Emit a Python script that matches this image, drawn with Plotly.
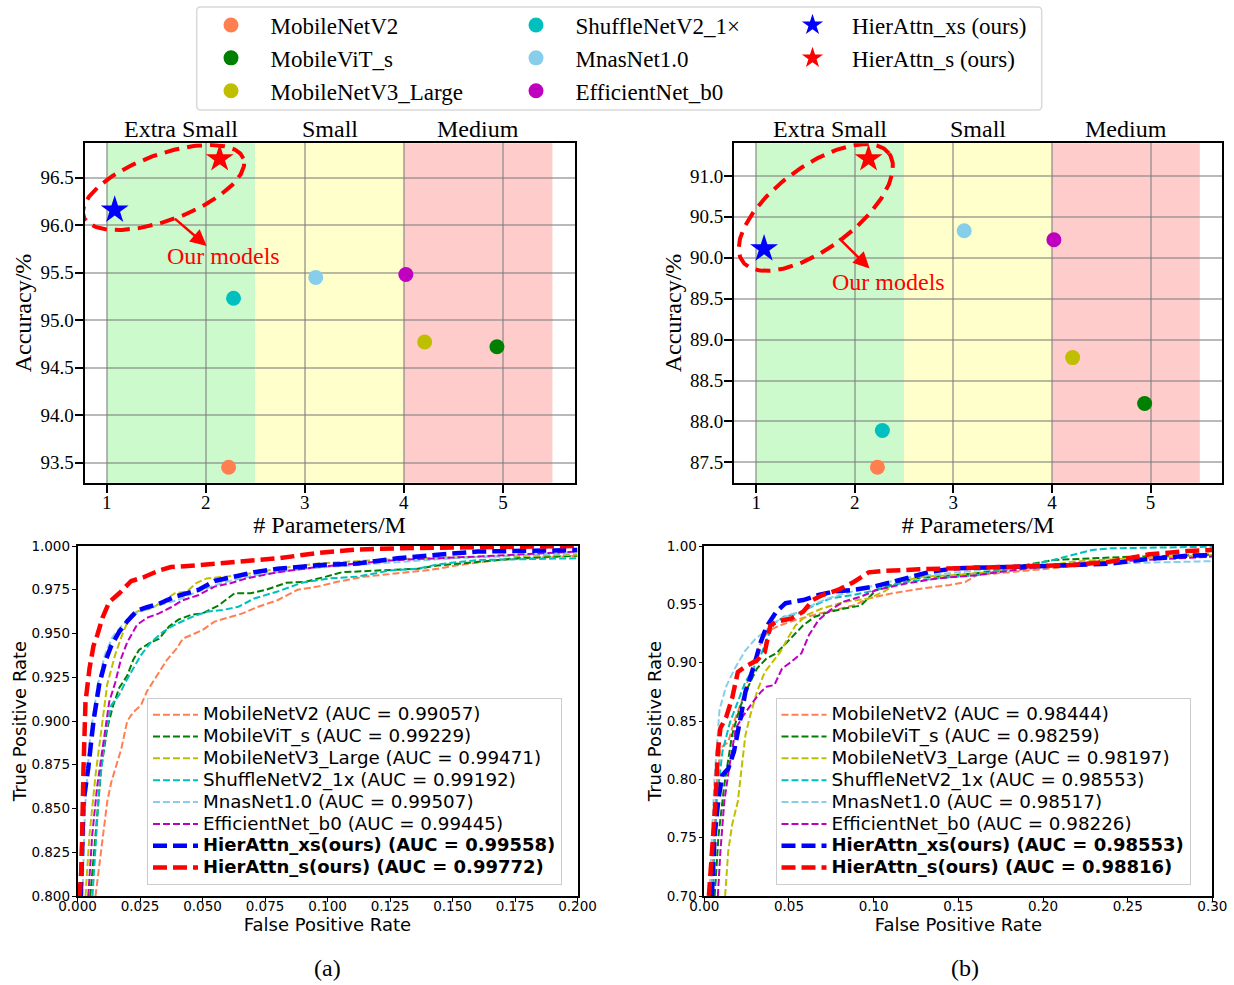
import math
import plotly.graph_objects as go

W, H = 1234, 985
SERIF = "Liberation Serif"
SANS = "DejaVu Sans"

# ---------------- data: accuracy vs parameters ----------------
models = ["MobileNetV2", "MobileViT_s", "MobileNetV3_Large", "ShuffleNetV2_1×",
          "MnasNet1.0", "EfficientNet_b0", "HierAttn_xs (ours)", "HierAttn_s (ours)"]
params_m = [2.23, 4.94, 4.21, 2.28, 3.11, 4.02, 1.08, 2.14]
acc_a = [93.45, 94.72, 94.77, 95.23, 95.45, 95.48, 96.16, 96.70]
acc_b = [87.44, 88.22, 88.78, 87.89, 90.33, 90.22, 90.11, 91.21]
colors = ["#FF7F50", "#008000", "#BFBF00", "#00BFBF", "#87CEEB", "#BF00BF", "#0000FF", "#FF0000"]
symbols = ["circle"] * 6 + ["star", "star"]

band_edges = [1.0, 2.5, 4.0, 5.5]
band_labels = ["Extra Small", "Small", "Medium"]
band_colors = ["#CCFACC", "#FFFFCC", "#FFCCCC"]

# ---------------- data: ROC curves ----------------
roc_names = ["MobileNetV2", "MobileViT_s", "MobileNetV3_Large", "ShuffleNetV2_1x",
             "MnasNet1.0", "EfficientNet_b0", "HierAttn_xs(ours)", "HierAttn_s(ours)"]
auc_a = ["0.99057", "0.99229", "0.99471", "0.99192", "0.99507", "0.99445", "0.99558", "0.99772"]
auc_b = ["0.98444", "0.98259", "0.98197", "0.98553", "0.98517", "0.98226", "0.98553", "0.98816"]

fpr_a_mnv2 = [0.0072, 0.0095, 0.0119, 0.0135, 0.0151, 0.0175, 0.0199, 0.0223, 0.0254, 0.0278, 0.0318, 0.0358, 0.0397, 0.0421, 0.0453, 0.050, 0.0548, 0.0596, 0.066, 0.0723, 0.080, 0.088, 0.096, 0.104, 0.115, 0.128, 0.141, 0.152, 0.168, 0.200]
tpr_a_mnv2 = [0.800, 0.825, 0.854, 0.865, 0.873, 0.884, 0.900, 0.905, 0.909, 0.917, 0.926, 0.935, 0.9415, 0.947, 0.949, 0.952, 0.9568, 0.9587, 0.9615, 0.9653, 0.969, 0.975, 0.9768, 0.9796, 0.9825, 0.9844, 0.9863, 0.989, 0.992, 0.9945]
fpr_a_mvit = [0.0051, 0.0072, 0.0095, 0.0119, 0.0143, 0.0167, 0.0199, 0.0223, 0.0246, 0.0286, 0.0326, 0.0366, 0.0405, 0.0453, 0.050, 0.0564, 0.0628, 0.0692, 0.0755, 0.0835, 0.0914, 0.0994, 0.1057, 0.120, 0.136, 0.144, 0.160, 0.176, 0.200]
tpr_a_mvit = [0.800, 0.835, 0.873, 0.896, 0.909, 0.919, 0.926, 0.935, 0.9406, 0.9444, 0.947, 0.954, 0.958, 0.9606, 0.9615, 0.966, 0.973, 0.973, 0.975, 0.979, 0.9796, 0.9825, 0.985, 0.986, 0.987, 0.9888, 0.991, 0.993, 0.9945]
fpr_a_mnv3 = [0.0032, 0.0048, 0.0072, 0.0095, 0.0119, 0.0151, 0.0183, 0.0215, 0.0246, 0.0294, 0.0358, 0.039, 0.0437, 0.0477, 0.0517, 0.0596, 0.0676, 0.080, 0.096, 0.120, 0.144, 0.176, 0.200]
tpr_a_mnv3 = [0.800, 0.835, 0.869, 0.896, 0.921, 0.938, 0.951, 0.961, 0.963, 0.964, 0.970, 0.973, 0.974, 0.979, 0.9815, 0.9825, 0.984, 0.987, 0.990, 0.992, 0.9933, 0.9945, 0.995]
fpr_a_shuf = [0.006, 0.0072, 0.0087, 0.0111, 0.0135, 0.0167, 0.0191, 0.0223, 0.0254, 0.0294, 0.0342, 0.039, 0.0445, 0.0517, 0.058, 0.0644, 0.0707, 0.080, 0.0898, 0.101, 0.112, 0.125, 0.136, 0.144, 0.160, 0.200]
tpr_a_shuf = [0.800, 0.825, 0.862, 0.892, 0.909, 0.915, 0.922, 0.930, 0.9377, 0.945, 0.951, 0.955, 0.9587, 0.9625, 0.9634, 0.9653, 0.970, 0.974, 0.979, 0.9815, 0.9825, 0.986, 0.987, 0.9895, 0.992, 0.993]
fpr_a_mnas = [0.002, 0.003, 0.005, 0.008, 0.011, 0.014, 0.018, 0.024, 0.032, 0.040, 0.048, 0.058, 0.070, 0.090, 0.120, 0.150, 0.180, 0.200]
tpr_a_mnas = [0.800, 0.850, 0.890, 0.920, 0.938, 0.948, 0.955, 0.962, 0.966, 0.969, 0.974, 0.979, 0.983, 0.987, 0.990, 0.993, 0.995, 0.996]
fpr_a_eff = [0.0043, 0.0059, 0.0079, 0.0103, 0.0127, 0.0151, 0.0175, 0.0199, 0.0238, 0.0278, 0.0326, 0.0374, 0.0421, 0.0485, 0.0548, 0.0612, 0.0676, 0.080, 0.096, 0.112, 0.128, 0.160, 0.200]
tpr_a_eff = [0.800, 0.835, 0.863, 0.888, 0.911, 0.922, 0.936, 0.945, 0.955, 0.959, 0.9615, 0.965, 0.969, 0.972, 0.9768, 0.9787, 0.9815, 0.985, 0.988, 0.990, 0.992, 0.994, 0.9968]
fpr_a_xs = [0.0013, 0.0024, 0.0043, 0.0064, 0.0087, 0.0111, 0.0135, 0.0167, 0.0199, 0.0238, 0.0278, 0.0326, 0.039, 0.0445, 0.0485, 0.0548, 0.0612, 0.0707, 0.080, 0.096, 0.112, 0.128, 0.144, 0.160, 0.200]
tpr_a_xs = [0.800, 0.854, 0.873, 0.900, 0.921, 0.934, 0.943, 0.951, 0.957, 0.963, 0.965, 0.967, 0.971, 0.973, 0.975, 0.980, 0.982, 0.985, 0.987, 0.989, 0.990, 0.993, 0.995, 0.9968, 0.9977]
fpr_a_s = [0.0008, 0.0016, 0.0024, 0.0032, 0.0048, 0.0064, 0.0079, 0.0100, 0.0127, 0.0167, 0.0215, 0.0262, 0.0326, 0.0374, 0.0485, 0.0644, 0.0803, 0.0962, 0.112, 0.128, 0.160, 0.200]
tpr_a_s = [0.800, 0.816, 0.873, 0.911, 0.930, 0.943, 0.949, 0.959, 0.968, 0.973, 0.980, 0.982, 0.986, 0.988, 0.989, 0.991, 0.993, 0.996, 0.998, 0.9987, 0.9994, 1.000]

fpr_b_mnv2 = [0.0039, 0.0057, 0.0073, 0.0095, 0.0141, 0.0175, 0.022, 0.0266, 0.0311, 0.0345, 0.039, 0.0448, 0.0539, 0.0652, 0.0766, 0.088, 0.097, 0.1107, 0.129, 0.145, 0.154, 0.1607, 0.1834, 0.206, 0.229, 0.2516, 0.274, 0.300]
tpr_b_mnv2 = [0.700, 0.752, 0.795, 0.8266, 0.832, 0.849, 0.8666, 0.889, 0.909, 0.921, 0.928, 0.932, 0.9366, 0.941, 0.945, 0.949, 0.955, 0.9594, 0.9637, 0.9666, 0.969, 0.975, 0.978, 0.981, 0.985, 0.988, 0.9909, 0.9937]
fpr_b_mvit = [0.0061, 0.0084, 0.0118, 0.0164, 0.0209, 0.0254, 0.0311, 0.0368, 0.0425, 0.047, 0.0527, 0.0584, 0.0652, 0.0743, 0.0834, 0.0925, 0.1016, 0.1107, 0.1243, 0.138, 0.1607, 0.1834, 0.206, 0.229, 0.2516, 0.300]
tpr_b_mvit = [0.700, 0.752, 0.795, 0.838, 0.8609, 0.878, 0.895, 0.9037, 0.908, 0.915, 0.9237, 0.932, 0.9394, 0.9437, 0.9466, 0.949, 0.9623, 0.9666, 0.9723, 0.9737, 0.9766, 0.982, 0.988, 0.9894, 0.9909, 0.9923]
fpr_b_mnv3 = [0.0123, 0.0141, 0.0164, 0.0198, 0.022, 0.0243, 0.0266, 0.0311, 0.0357, 0.0402, 0.0448, 0.0493, 0.0539, 0.0607, 0.0698, 0.0834, 0.097, 0.1061, 0.1152, 0.129, 0.147, 0.172, 0.1948, 0.2175, 0.2516, 0.300]
tpr_b_mnv3 = [0.700, 0.738, 0.7609, 0.781, 0.8094, 0.838, 0.852, 0.875, 0.892, 0.9009, 0.909, 0.9209, 0.932, 0.941, 0.9466, 0.9523, 0.955, 0.961, 0.9694, 0.9737, 0.975, 0.978, 0.9809, 0.9866, 0.9894, 0.9923]
fpr_b_shuf = [0.0050, 0.0073, 0.0107, 0.0152, 0.0198, 0.0243, 0.0289, 0.0334, 0.038, 0.0414, 0.047, 0.056, 0.0652, 0.0743, 0.088, 0.1016, 0.1198, 0.138, 0.1607, 0.1834, 0.206, 0.229, 0.24, 0.300]
tpr_b_shuf = [0.700, 0.781, 0.8237, 0.849, 0.8666, 0.8837, 0.895, 0.9066, 0.9237, 0.9337, 0.9394, 0.9423, 0.9494, 0.955, 0.958, 0.9623, 0.9694, 0.9723, 0.975, 0.981, 0.988, 0.9966, 0.998, 0.9994]
fpr_b_mnas = [0.0030, 0.0060, 0.0090, 0.0130, 0.0180, 0.0240, 0.0300, 0.0360, 0.0420, 0.0500, 0.0580, 0.0660, 0.0750, 0.0880, 0.1000, 0.1200, 0.1400, 0.1600, 0.1950, 0.2200, 0.2400, 0.2630, 0.3000]
tpr_b_mnas = [0.700, 0.800, 0.860, 0.880, 0.895, 0.910, 0.920, 0.927, 0.935, 0.941, 0.944, 0.951, 0.956, 0.961, 0.966, 0.973, 0.976, 0.979, 0.982, 0.983, 0.985, 0.986, 0.987]
fpr_b_eff = [0.008, 0.0095, 0.0118, 0.0152, 0.0186, 0.0232, 0.0289, 0.0334, 0.0368, 0.0414, 0.0459, 0.0516, 0.0573, 0.0618, 0.0675, 0.0743, 0.0823, 0.0925, 0.1016, 0.1198, 0.138, 0.1607, 0.1834, 0.206, 0.24, 0.274, 0.300]
tpr_b_eff = [0.700, 0.738, 0.781, 0.815, 0.8437, 0.855, 0.8666, 0.875, 0.8794, 0.8809, 0.895, 0.9009, 0.908, 0.9237, 0.9366, 0.945, 0.9523, 0.9566, 0.9623, 0.968, 0.9723, 0.975, 0.9794, 0.9837, 0.9866, 0.9894, 0.9909]
fpr_b_xs = [0.0045, 0.0061, 0.0084, 0.0107, 0.0141, 0.0175, 0.0209, 0.0243, 0.0289, 0.0334, 0.0368, 0.0425, 0.048, 0.0584, 0.0675, 0.0766, 0.088, 0.0993, 0.1107, 0.122, 0.1334, 0.149, 0.1834, 0.206, 0.229, 0.24, 0.263, 0.2857, 0.300]
tpr_b_xs = [0.700, 0.752, 0.7837, 0.8037, 0.809, 0.8237, 0.849, 0.875, 0.895, 0.918, 0.931, 0.9437, 0.951, 0.9537, 0.958, 0.961, 0.9623, 0.965, 0.969, 0.9737, 0.978, 0.981, 0.982, 0.983, 0.9843, 0.985, 0.989, 0.9917, 0.9923]
fpr_b_s = [0.0027, 0.0039, 0.005, 0.0066, 0.008, 0.0095, 0.013, 0.0164, 0.0198, 0.0243, 0.0311, 0.0357, 0.039, 0.0425, 0.0516, 0.0584, 0.064, 0.0698, 0.0789, 0.088, 0.097, 0.106, 0.1266, 0.149, 0.1834, 0.206, 0.2175, 0.24, 0.263, 0.2857, 0.300]
tpr_b_s = [0.700, 0.724, 0.752, 0.781, 0.8237, 0.8437, 0.8537, 0.8694, 0.892, 0.8966, 0.902, 0.909, 0.932, 0.935, 0.938, 0.9437, 0.9537, 0.958, 0.9623, 0.969, 0.9774, 0.9786, 0.980, 0.9809, 0.982, 0.9829, 0.9837, 0.9866, 0.9929, 0.9957, 0.9966]

roc_a = [(fpr_a_mnv2, tpr_a_mnv2), (fpr_a_mvit, tpr_a_mvit), (fpr_a_mnv3, tpr_a_mnv3), (fpr_a_shuf, tpr_a_shuf),
         (fpr_a_mnas, tpr_a_mnas), (fpr_a_eff, tpr_a_eff), (fpr_a_xs, tpr_a_xs), (fpr_a_s, tpr_a_s)]
roc_b = [(fpr_b_mnv2, tpr_b_mnv2), (fpr_b_mvit, tpr_b_mvit), (fpr_b_mnv3, tpr_b_mnv3), (fpr_b_shuf, tpr_b_shuf),
         (fpr_b_mnas, tpr_b_mnas), (fpr_b_eff, tpr_b_eff), (fpr_b_xs, tpr_b_xs), (fpr_b_s, tpr_b_s)]

# ---------------- layout geometry (pixels) ----------------
def px_dom_x(a, b):
    return [a / W, b / W]

def px_dom_y(top, bottom):
    return [1 - bottom / H, 1 - top / H]

dom = {
    "x1": px_dom_x(84.5, 574.7), "y1": px_dom_y(143.3, 482.7),
    "x2": px_dom_x(734.0, 1222.0), "y2": px_dom_y(143.3, 482.7),
    "x3": px_dom_x(77.5, 577.5), "y3": px_dom_y(546.0, 896.0),
    "x4": px_dom_x(704.3, 1212.4), "y4": px_dom_y(546.0, 896.0),
}

def padded(lo, hi, m=0.05):
    s = hi - lo
    return [lo - m * s, hi + m * s]

xr_top = padded(band_edges[0], band_edges[-1])
yr_a = padded(min(acc_a), max(acc_a))
yr_b = padded(min(acc_b), max(acc_b))

fig = go.Figure()

# ---------------- ellipses ("Our models") ----------------
def ellipse(xdom, ydom, xr, yr, cx, cy, a_px, b_px, ang):
    sx = (xdom[1] - xdom[0]) * W / (xr[1] - xr[0])
    sy = (ydom[1] - ydom[0]) * H / (yr[1] - yr[0])
    th = math.radians(ang)
    xs, ys = [], []
    for i in range(241):
        t = 2 * math.pi * i / 240
        dx = a_px * math.cos(t) * math.cos(th) - b_px * math.sin(t) * math.sin(th)
        dy = a_px * math.cos(t) * math.sin(th) + b_px * math.sin(t) * math.cos(th)
        xs.append(cx + dx / sx)
        ys.append(cy + dy / sy)
    return xs, ys

ex, ey = ellipse(dom["x1"], dom["y1"], xr_top, yr_a, 1.573, 96.397, 85, 33, 20)
fig.add_trace(go.Scatter(x=ex, y=ey, xaxis="x", yaxis="y", mode="lines", showlegend=False, hoverinfo="skip",
                         line=dict(color="#FF0000", width=4, dash="15px,8px")))
ex, ey = ellipse(dom["x2"], dom["y2"], xr_top, yr_b, 1.605, 90.614, 91, 41, 36.5)
fig.add_trace(go.Scatter(x=ex, y=ey, xaxis="x2", yaxis="y2", mode="lines", showlegend=False, hoverinfo="skip",
                         line=dict(color="#FF0000", width=4, dash="15px,8px")))

# ---------------- scatter points ----------------
legend_of = ["legend", "legend", "legend", "legend2", "legend2", "legend2", "legend3", "legend3"]
for i, m in enumerate(models):
    size = 21 if symbols[i] == "star" else 15
    fig.add_trace(go.Scatter(x=[params_m[i]], y=[acc_a[i]], xaxis="x", yaxis="y", mode="markers", name=m,
                             legend=legend_of[i], showlegend=True,
                             marker=dict(color=colors[i], size=size, symbol=symbols[i], line=dict(width=0))))
    fig.add_trace(go.Scatter(x=[params_m[i]], y=[acc_b[i]], xaxis="x2", yaxis="y2", mode="markers", name=m,
                             showlegend=False,
                             marker=dict(color=colors[i], size=size, symbol=symbols[i], line=dict(width=0))))

# ---------------- ROC curves ----------------
for (roc, aucs, xa, ya, lg) in [(roc_a, auc_a, "x3", "y3", "legend4"), (roc_b, auc_b, "x4", "y4", "legend5")]:
    for i, (fx, ty) in enumerate(roc):
        ours = i >= 6
        label = f"{roc_names[i]} (AUC = {aucs[i]})"
        if ours:
            name = f'<span style="font-size:18px"><b>{label}</b></span>'
        else:
            name = f'<span style="font-size:18.3px">{label}</span>'
        fig.add_trace(go.Scatter(x=fx, y=ty, xaxis=xa, yaxis=ya, mode="lines", name=name, legend=lg,
                                 line=dict(color=colors[i], width=4.5 if ours else 2,
                                           dash="14px,6px" if ours else "7px,3px")))

# ---------------- shapes ----------------
shapes = []
for xa, ya in [("x", "y"), ("x2", "y2")]:
    for j in range(3):
        shapes.append(dict(type="rect", xref=xa, yref=f"{ya} domain", x0=band_edges[j], x1=band_edges[j + 1],
                           y0=0, y1=1, fillcolor=band_colors[j], line=dict(width=0), layer="below"))

# rounded border of the top legend
L, T, R, B, r = 196.7 / W, 1 - 7 / H, 1041.7 / W, 1 - 110 / H, 4
rx, ry = r / W, r / H
path = (f"M {L+rx},{T} L {R-rx},{T} Q {R},{T} {R},{T-ry} L {R},{B+ry} Q {R},{B} {R-rx},{B} "
        f"L {L+rx},{B} Q {L},{B} {L},{B+ry} L {L},{T-ry} Q {L},{T} {L+rx},{T} Z")
shapes.append(dict(type="path", xref="paper", yref="paper", path=path, line=dict(color="#D9D9D9", width=1.5),
                   fillcolor="rgba(255,255,255,0)", layer="above"))

# ---------------- annotations ----------------
ann = []
for xa, ya in [("x", "y"), ("x2", "y2")]:
    for j in range(3):
        ann.append(dict(text=band_labels[j], x=(band_edges[j] + band_edges[j + 1]) / 2, xref=xa,
                        y=1, yref=f"{ya} domain", xanchor="center", yanchor="middle", yshift=14, showarrow=False,
                        font=dict(family=SERIF, size=24, color="black")))
ann.append(dict(text="Our models", x=2.182, y=95.679, xref="x", yref="y", showarrow=False,
                xanchor="center", yanchor="middle", font=dict(family=SERIF, size=24, color="#FF0000")))
ann.append(dict(text="Our models", x=2.343, y=89.703, xref="x2", yref="y2", showarrow=False,
                xanchor="center", yanchor="middle", font=dict(family=SERIF, size=24, color="#FF0000")))
ann.append(dict(text="", x=2.009, y=95.781, ax=1.672, ay=96.083, xref="x", yref="y", axref="x", ayref="y",
                showarrow=True, arrowhead=2, arrowsize=1.3, arrowwidth=2.5, arrowcolor="#FF0000"))
ann.append(dict(text="", x=2.150, y=89.869, ax=1.826, ay=90.256, xref="x2", yref="y2", axref="x2", ayref="y2",
                showarrow=True, arrowhead=2, arrowsize=1.3, arrowwidth=2.5, arrowcolor="#FF0000"))
ann.append(dict(text="(a)", x=327 / W, y=1 - 968 / H, xref="paper", yref="paper", showarrow=False,
                xanchor="center", yanchor="middle", font=dict(family=SERIF, size=24, color="black")))
ann.append(dict(text="(b)", x=965 / W, y=1 - 968 / H, xref="paper", yref="paper", showarrow=False,
                xanchor="center", yanchor="middle", font=dict(family=SERIF, size=24, color="black")))

# ---------------- axes ----------------
def top_x(d, anchor):
    return dict(domain=d, anchor=anchor, range=xr_top, tickvals=[1, 2, 3, 4, 5], showgrid=True,
                gridcolor="rgba(128,128,128,0.55)", gridwidth=2, zeroline=False, showline=True,
                linecolor="black", linewidth=2, mirror=True, ticks="outside", ticklen=8, tickwidth=2,
                tickcolor="black", tickfont=dict(family=SERIF, size=19, color="black"), ticklabelstandoff=-7,
                title=dict(text="# Parameters/M", font=dict(family=SERIF, size=24, color="black"), standoff=4))

def top_y(d, anchor, rng):
    return dict(domain=d, anchor=anchor, range=rng, dtick=0.5, tick0=0, tickformat=".1f", showgrid=True,
                gridcolor="rgba(128,128,128,0.55)", gridwidth=2, zeroline=False, showline=True,
                linecolor="black", linewidth=2, mirror=True, ticks="outside", ticklen=8, tickwidth=2,
                tickcolor="black", tickfont=dict(family=SERIF, size=19, color="black"), ticklabelstandoff=-3,
                title=dict(text="Accuracy/%", font=dict(family=SERIF, size=24, color="black"), standoff=2))

def roc_x(d, anchor, rng, dt, fmt):
    return dict(domain=d, anchor=anchor, range=rng, dtick=dt, tick0=0, tickformat=fmt, showgrid=False,
                zeroline=False, showline=True, linecolor="black", linewidth=1.5, mirror=True,
                ticks="outside", ticklen=4, tickwidth=1.2, tickcolor="black", ticklabelstandoff=-7,
                tickfont=dict(family=SANS, size=13.5, color="black"),
                title=dict(text="False Positive Rate", font=dict(family=SANS, size=18, color="black"), standoff=3))

def roc_y(d, anchor, rng, dt, fmt):
    return dict(domain=d, anchor=anchor, range=rng, dtick=dt, tick0=0, tickformat=fmt, showgrid=False,
                zeroline=False, showline=True, linecolor="black", linewidth=1.5, mirror=True,
                ticks="outside", ticklen=4, tickwidth=1.2, tickcolor="black", ticklabelstandoff=-1,
                tickfont=dict(family=SANS, size=13.5, color="black"),
                title=dict(text="True Positive Rate", font=dict(family=SANS, size=18, color="black"), standoff=0))

top_leg_font = dict(family=SERIF, size=23, color="black")
roc_leg_font = dict(family=SANS, size=14.5, color="black")

def top_legend(x0):
    return dict(x=x0 / W, y=1 - 3.5 / H, xanchor="left", yanchor="top", bgcolor="rgba(0,0,0,0)",
                borderwidth=0, font=top_leg_font, itemwidth=69, orientation="v")

def roc_legend(x0):
    return dict(x=x0 / W, y=1 - 697.7 / H, xanchor="left", yanchor="top", bgcolor="rgba(255,255,255,0.8)",
                bordercolor="#CCCCCC", borderwidth=1, font=roc_leg_font, itemwidth=45, orientation="v")

fig.update_layout(
    width=W, height=H, margin=dict(l=0, r=0, t=0, b=0, pad=0, autoexpand=False),
    paper_bgcolor="white", plot_bgcolor="white",
    xaxis=top_x(dom["x1"], "y"), yaxis=top_y(dom["y1"], "x", yr_a),
    xaxis2=top_x(dom["x2"], "y2"), yaxis2=top_y(dom["y2"], "x2", yr_b),
    xaxis3=roc_x(dom["x3"], "y3", [0, 0.2], 0.025, ".3f"), yaxis3=roc_y(dom["y3"], "x3", [0.8, 1.0], 0.025, ".3f"),
    xaxis4=roc_x(dom["x4"], "y4", [0, 0.3], 0.05, ".2f"), yaxis4=roc_y(dom["y4"], "x4", [0.7, 1.0], 0.05, ".2f"),
    legend=top_legend(191.5), legend2=top_legend(496.5), legend3=top_legend(773.0),
    legend4=roc_legend(147.0), legend5=roc_legend(775.5),
    shapes=shapes, annotations=ann, hovermode=False,
)

fig.write_html("out.html", config={"displayModeBar": False},
               post_script="document.body.style.margin='0';document.body.style.padding='0';")
